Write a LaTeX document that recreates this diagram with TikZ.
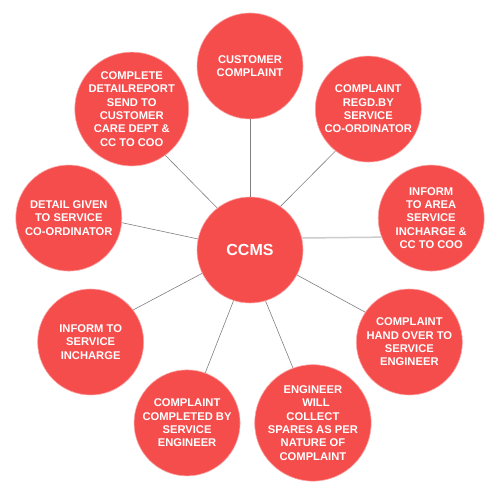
\documentclass[tikz,border=0pt]{standalone}
\usepackage{fontspec}
\setmainfont{Liberation Sans}
\usepackage{xcolor}
\usepackage{tikz}
\definecolor{ccmsred}{RGB}{245,76,76}
\definecolor{ccmsrim}{RGB}{250,165,165}

\begin{document}
\begin{tikzpicture}[x=1pt,y=1pt,
    bubble/.style={circle,fill=ccmsred,draw=ccmsrim,line width=0.6pt,
      minimum size=106pt,inner sep=0pt,text=white,align=center,
      font=\fontsize{11.2}{13.3}\selectfont\bfseries},
    hub/.style={bubble,font=\fontsize{16}{19}\selectfont\bfseries},
    link/.style={draw=gray,line width=0.6pt},
    flatlink/.style={draw=gray!40,line width=1.5pt}]
    \useasboundingbox[fill=white] (-250,-250) rectangle (250,250);
    % hub and the nine steps round it
    \node[hub] (ccms) at (0,0) {CCMS};
    \node[bubble] (cust) at (90:184) {CUSTOMER\\COMPLAINT};
    \node[bubble] (regd) at (50:184) {COMPLAINT\\REGD.BY\\SERVICE\\CO-ORDINATOR};
    \node[bubble] (area) at (10:184) {INFORM\\TO AREA\\SERVICE\\INCHARGE \&\\CC TO COO};
    \node[bubble] (handover) at (-30:184) {COMPLAINT\\HAND OVER TO\\SERVICE\\ENGINEER};
    \node[bubble] (spares) at (-70:184) {ENGINEER\\\hspace*{6pt}WILL\\COLLECT\\SPARES AS PER\\NATURE OF\\COMPLAINT};
    \node[bubble] (done) at (-110:184) {COMPLAINT\\COMPLETED BY\\SERVICE\\ENGINEER};
    \node[bubble] (incharge) at (-150:184) {INFORM TO\\SERVICE\\INCHARGE};
    \node[bubble] (coord) at (170:184) {DETAIL GIVEN\\TO SERVICE\\CO-ORDINATOR};
    \node[bubble] (report) at (130:184) {COMPLETE\\DETAILREPORT\\SEND TO\\CUSTOMER\\CARE DEPT \&\\CC TO COO};
    % spokes
    \foreach \from/\to/\target in {90/270/cust, 55/232/regd, -28/146/handover,
        -73/110/spares, -108/70/done, 206/37/incharge, 168/-5/coord, 128/-54/report}
      \draw[link] (ccms.\from) -- (\target.\to);
    \draw[flatlink] (ccms.13) -- (area.201);
\end{tikzpicture}
\end{document}
